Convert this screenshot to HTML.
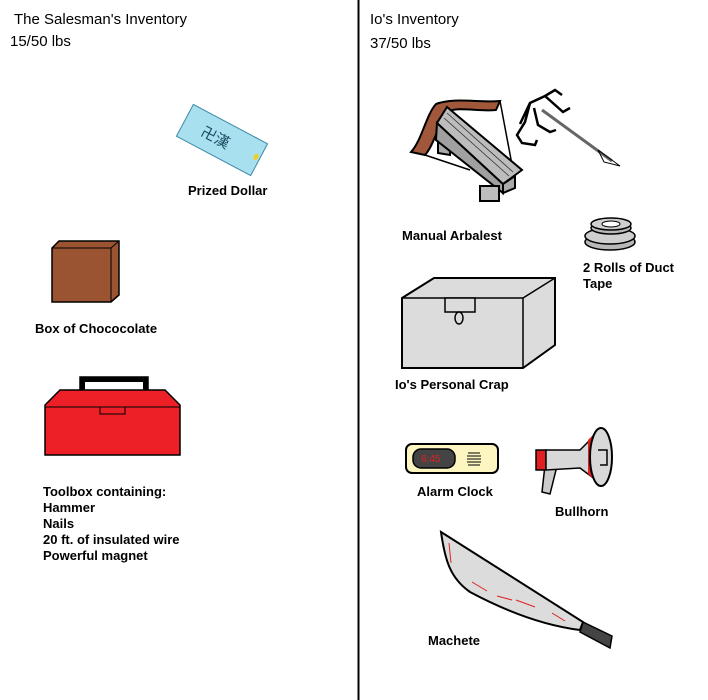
<!DOCTYPE html>
<html><head><style>
html,body{margin:0;padding:0;background:#fff;}
svg{display:block}
.h{font-family:"Liberation Sans",sans-serif;font-size:15px;fill:#000}
.l{font-family:"Liberation Sans",sans-serif;font-size:13px;font-weight:bold;fill:#000}
</style></head><body>
<svg width="708" height="700" viewBox="0 0 708 700" xmlns="http://www.w3.org/2000/svg">
<line x1="358.5" y1="0" x2="358.5" y2="700" stroke="#000" stroke-width="2"/>
<text class="h" x="14" y="24">The Salesman's Inventory</text>
<text class="h" x="10" y="46">15/50 lbs</text>
<text class="h" x="370" y="24">Io's Inventory</text>
<text class="h" x="370" y="48">37/50 lbs</text>

<!-- dollar -->
<g transform="translate(222,140) rotate(28)">
<rect x="-42" y="-18" width="84" height="36" fill="#a8e0f0" stroke="#3a8aa8" stroke-width="1"/>
<text x="-22" y="6" font-size="15" fill="#1a4a60" font-family="Noto Sans CJK SC,sans-serif">卍漢</text>
<rect x="36" y="-4" width="4" height="6" fill="#f0d020"/>
</g>
<text class="l" x="188" y="195">Prized Dollar</text>

<!-- box -->
<polygon points="52,248 59,241 119,241 119,295 111,302 52,302" fill="#9b5432" stroke="#000" stroke-width="1.5"/>
<polyline points="52,248 111,248 119,241" fill="none" stroke="#000" stroke-width="1"/>
<line x1="111" y1="248" x2="111" y2="302" stroke="#000" stroke-width="1"/>
<text class="l" x="35" y="333">Box of Chococolate</text>

<!-- toolbox -->
<path d="M80,390 V377 H148 V390 M85,390 V382 H143 V390" fill="#000" stroke="#000" stroke-width="1.5"/>
<rect x="85" y="382" width="58" height="8" fill="#fff"/>
<polygon points="60,390 165,390 180,405 180,455 45,455 45,405" fill="#ee2027" stroke="#000" stroke-width="1.5"/>
<line x1="45" y1="407" x2="180" y2="407" stroke="#000" stroke-width="1"/>
<rect x="100" y="407" width="25" height="7" fill="#ee2027" stroke="#000" stroke-width="1"/>
<text class="l" x="43" y="496">Toolbox containing:</text>
<text class="l" x="43" y="512">Hammer</text>
<text class="l" x="43" y="528">Nails</text>
<text class="l" x="43" y="544">20 ft. of insulated wire</text>
<text class="l" x="43" y="560">Powerful magnet</text>

<!-- crossbow -->
<path d="M411,152 C422,140 426,115 436,104 C455,97 480,103 500,101 L496,110 C478,112 458,106 447,112 C438,125 434,145 425,155 Z" fill="#a0573a" stroke="#000" stroke-width="2"/>
<line x1="500" y1="101" x2="513" y2="170" stroke="#000" stroke-width="1.5"/>
<line x1="425" y1="155" x2="470" y2="170" stroke="#000" stroke-width="1.5"/>
<polygon points="438,138 450,138 450,155 438,153" fill="#aaa" stroke="#000" stroke-width="2"/>
<polygon points="437,123 503,184 503,193 436,140" fill="#a0a0a0" stroke="#000" stroke-width="2"/>
<polygon points="447,107 522,170 503,184 437,123" fill="#bdbdbd" stroke="#000" stroke-width="2"/>
<g stroke="#333" stroke-width="0.8"><line x1="447" y1="113" x2="513" y2="172"/><line x1="444" y1="118" x2="509" y2="176"/></g>
<polygon points="503,184 515,176 515,188 503,193" fill="#aaa" stroke="#000" stroke-width="2"/>
<rect x="480" y="186" width="19" height="15" fill="#bdbdbd" stroke="#000" stroke-width="2"/>
<path d="M520,124 L530,103 L545,96 L555,90 L562,95 M545,96 L563,112 L570,108 M530,103 L525,122 L517,135 L522,143 L535,145 L537,140 M534,108 L538,125 L550,132 L556,130" fill="none" stroke="#000" stroke-width="2.5"/>
<line x1="542" y1="110" x2="612" y2="161" stroke="#666" stroke-width="3"/>
<polygon points="598,150 620,166 604,162" fill="none" stroke="#000" stroke-width="1"/>
<text class="l" x="402" y="240">Manual Arbalest</text>

<!-- duct tape -->
<ellipse cx="610" cy="242" rx="25" ry="8" fill="#b8b8b8" stroke="#000" stroke-width="1.5"/>
<ellipse cx="610" cy="236" rx="25" ry="8" fill="#cfcfcf" stroke="#000" stroke-width="1.5"/>
<ellipse cx="611" cy="228" rx="20" ry="6" fill="#b8b8b8" stroke="#000" stroke-width="1.5"/>
<ellipse cx="611" cy="224" rx="20" ry="6" fill="#cfcfcf" stroke="#000" stroke-width="1.5"/>
<ellipse cx="611" cy="224" rx="9" ry="3" fill="#fff" stroke="#000"/>
<text class="l" x="583" y="272">2 Rolls of Duct</text>
<text class="l" x="583" y="288">Tape</text>

<!-- crate -->
<polygon points="402,298 434,278 555,278 555,345 523,368 402,368" fill="#dcdcdc" stroke="#000" stroke-width="2"/>
<polyline points="402,298 523,298 555,278" fill="none" stroke="#000" stroke-width="1.5"/>
<line x1="523" y1="298" x2="523" y2="368" stroke="#000" stroke-width="1.5"/>
<rect x="445" y="298" width="30" height="14" fill="#dcdcdc" stroke="#000" stroke-width="1.5"/>
<ellipse cx="459" cy="318" rx="4" ry="6" fill="#dcdcdc" stroke="#000" stroke-width="1.5"/>
<text class="l" x="395" y="389">Io's Personal Crap</text>

<!-- alarm clock -->
<rect x="406" y="444" width="92" height="29" rx="6" fill="#fdf6c0" stroke="#000" stroke-width="2"/>
<rect x="413" y="449" width="42" height="19" rx="8" fill="#444" stroke="#000" stroke-width="1.5"/>
<text x="421" y="462" font-family="Liberation Sans,sans-serif" font-size="10" fill="#e02020">6:45</text>
<g stroke="#000" stroke-width="1"><line x1="468" y1="453" x2="480" y2="453"/><line x1="467" y1="456" x2="481" y2="456"/><line x1="467" y1="459" x2="481" y2="459"/><line x1="467" y1="462" x2="481" y2="462"/><line x1="468" y1="465" x2="480" y2="465"/></g>
<text class="l" x="417" y="496">Alarm Clock</text>

<!-- bullhorn -->
<polygon points="545,465 542,492 550,494 556,470" fill="#ccc" stroke="#000" stroke-width="1.5"/>
<rect x="536" y="450" width="10" height="20" fill="#e02020" stroke="#000" stroke-width="1.5"/>
<polygon points="546,450 580,450 600,430 600,483 580,468 546,470" fill="#d8d8d8" stroke="#000" stroke-width="1.5"/>
<polygon points="588,440 596,432 596,482 588,474" fill="#e02020"/>
<ellipse cx="601" cy="457" rx="11" ry="29" fill="#d8d8d8" stroke="#000" stroke-width="2"/>
<path d="M598,450 L607,450 L607,465 L600,465" fill="none" stroke="#000" stroke-width="1.5"/>
<text class="l" x="555" y="516">Bullhorn</text>

<!-- machete -->
<path d="M441,532 L583,622 L580,630 C540,625 500,608 470,592 C450,578 445,560 441,532 Z" fill="#dcdcdc" stroke="#000" stroke-width="2"/>
<polygon points="583,622 612,636 610,648 580,632" fill="#444" stroke="#000" stroke-width="1.5"/>
<g stroke="#e02020" stroke-width="1"><line x1="449" y1="543" x2="451" y2="563"/><line x1="472" y1="582" x2="487" y2="591"/><line x1="497" y1="596" x2="512" y2="600"/><line x1="516" y1="600" x2="535" y2="607"/><line x1="552" y1="613" x2="565" y2="621"/></g>
<text class="l" x="428" y="645">Machete</text>
</svg>
</body></html>
